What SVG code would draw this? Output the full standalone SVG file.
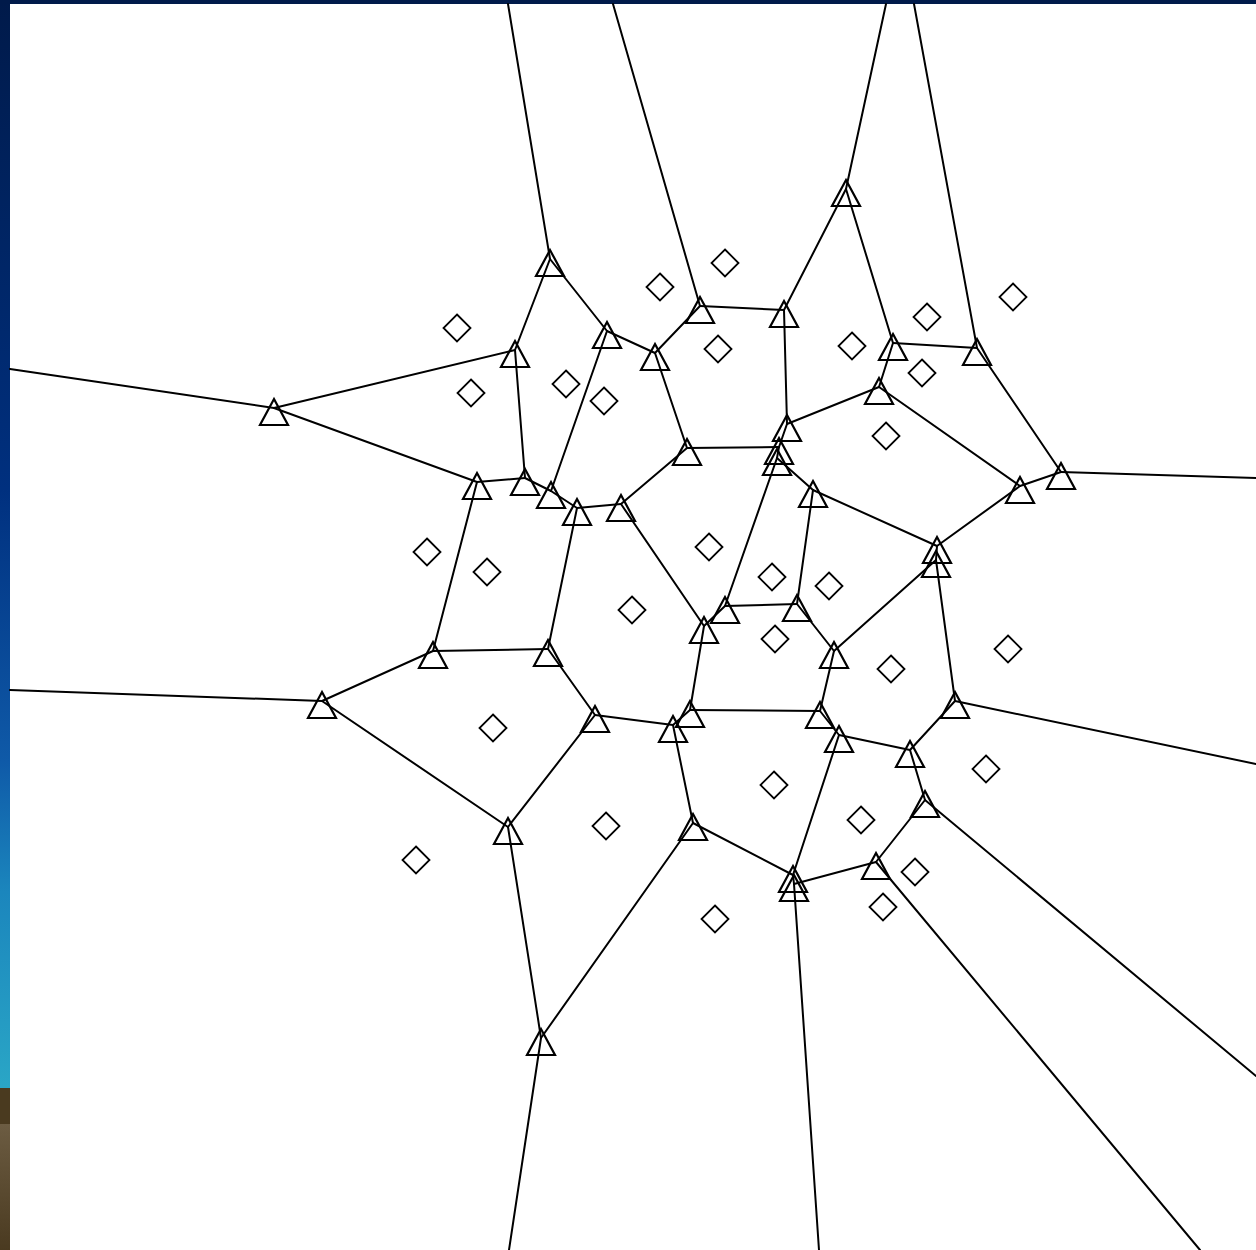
<svg xmlns="http://www.w3.org/2000/svg" xmlns:xlink="http://www.w3.org/1999/xlink" width="1256" height="1250" viewBox="0 0 1256 1250">
<style>
.e{stroke:#000;stroke-width:2;fill:none;stroke-linecap:round}
.v{stroke:#000;stroke-width:2.2;fill:none;stroke-linejoin:miter}
.s{stroke:#000;stroke-width:1.8;fill:none}
</style>
<defs>
<linearGradient id="lg" x1="0" y1="0" x2="0" y2="1">
<stop offset="0" stop-color="#001a4a"/>
<stop offset="0.45" stop-color="#00307f"/>
<stop offset="0.7" stop-color="#0f5aa8"/>
<stop offset="0.82" stop-color="#1b86bd"/>
<stop offset="1" stop-color="#2aa6c6"/>
</linearGradient>
<linearGradient id="bg2" x1="0" y1="0" x2="0" y2="1">
<stop offset="0" stop-color="#6c5c42"/>
<stop offset="1" stop-color="#4a3a20"/>
</linearGradient>
<path id="tri" d="M0,-9 L14,17 L-14,17 Z"/>
<path id="dia" d="M0,-13.5 L13.5,0 L0,13.5 L-13.5,0 Z"/>
</defs>
<rect x="0" y="0" width="1256" height="1250" fill="#fff"/>
<rect x="0" y="0" width="10" height="1088" fill="url(#lg)"/>
<rect x="0" y="1088" width="10" height="162" fill="#4a3a1f"/>
<rect x="0" y="1124" width="10" height="126" fill="url(#bg2)"/>
<rect x="0" y="0" width="1256" height="4" fill="#001a4a"/>
<g id="connectors">
<line class="e" x1="550" y1="259" x2="508" y2="4"/>
<line class="e" x1="700" y1="306" x2="613" y2="4"/>
<line class="e" x1="846" y1="189" x2="886" y2="4"/>
<line class="e" x1="977" y1="348" x2="914" y2="4"/>
<line class="e" x1="274" y1="408" x2="10" y2="369"/>
<line class="e" x1="322" y1="701" x2="10" y2="690"/>
<line class="e" x1="1061" y1="472" x2="1256" y2="478"/>
<line class="e" x1="955" y1="701" x2="1256" y2="764"/>
<line class="e" x1="925" y1="800" x2="1256" y2="1076"/>
<line class="e" x1="541" y1="1038" x2="509" y2="1250"/>
<line class="e" x1="794" y1="884" x2="819" y2="1250"/>
<line class="e" x1="876" y1="862" x2="1200" y2="1250"/>
<line class="e" x1="550" y1="259" x2="515" y2="350"/>
<line class="e" x1="550" y1="259" x2="607" y2="331"/>
<line class="e" x1="700" y1="306" x2="784" y2="310"/>
<line class="e" x1="700" y1="306" x2="655" y2="353"/>
<line class="e" x1="784" y1="310" x2="846" y2="189"/>
<line class="e" x1="784" y1="310" x2="787" y2="424"/>
<line class="e" x1="607" y1="331" x2="655" y2="353"/>
<line class="e" x1="607" y1="331" x2="551" y2="491"/>
<line class="e" x1="515" y1="350" x2="274" y2="408"/>
<line class="e" x1="515" y1="350" x2="525" y2="478"/>
<line class="e" x1="655" y1="353" x2="687" y2="448"/>
<line class="e" x1="846" y1="189" x2="893" y2="343"/>
<line class="e" x1="893" y1="343" x2="977" y2="348"/>
<line class="e" x1="893" y1="343" x2="879" y2="387"/>
<line class="e" x1="977" y1="348" x2="1061" y2="472"/>
<line class="e" x1="879" y1="387" x2="787" y2="424"/>
<line class="e" x1="879" y1="387" x2="1020" y2="486"/>
<line class="e" x1="274" y1="408" x2="477" y2="482"/>
<line class="e" x1="787" y1="424" x2="779" y2="447"/>
<line class="e" x1="687" y1="448" x2="779" y2="447"/>
<line class="e" x1="687" y1="448" x2="621" y2="504"/>
<line class="e" x1="779" y1="447" x2="777" y2="458"/>
<line class="e" x1="777" y1="458" x2="725" y2="606"/>
<line class="e" x1="777" y1="458" x2="813" y2="490"/>
<line class="e" x1="477" y1="482" x2="525" y2="478"/>
<line class="e" x1="477" y1="482" x2="433" y2="651"/>
<line class="e" x1="525" y1="478" x2="551" y2="491"/>
<line class="e" x1="551" y1="491" x2="577" y2="508"/>
<line class="e" x1="577" y1="508" x2="621" y2="504"/>
<line class="e" x1="577" y1="508" x2="548" y2="649"/>
<line class="e" x1="621" y1="504" x2="704" y2="626"/>
<line class="e" x1="813" y1="490" x2="937" y2="546"/>
<line class="e" x1="813" y1="490" x2="797" y2="604"/>
<line class="e" x1="1061" y1="472" x2="1020" y2="486"/>
<line class="e" x1="1020" y1="486" x2="937" y2="546"/>
<line class="e" x1="937" y1="546" x2="936" y2="560"/>
<line class="e" x1="936" y1="560" x2="834" y2="651"/>
<line class="e" x1="936" y1="560" x2="955" y2="701"/>
<line class="e" x1="725" y1="606" x2="797" y2="604"/>
<line class="e" x1="725" y1="606" x2="704" y2="626"/>
<line class="e" x1="797" y1="604" x2="834" y2="651"/>
<line class="e" x1="704" y1="626" x2="690" y2="710"/>
<line class="e" x1="433" y1="651" x2="548" y2="649"/>
<line class="e" x1="433" y1="651" x2="322" y2="701"/>
<line class="e" x1="548" y1="649" x2="595" y2="715"/>
<line class="e" x1="834" y1="651" x2="820" y2="711"/>
<line class="e" x1="322" y1="701" x2="508" y2="827"/>
<line class="e" x1="595" y1="715" x2="673" y2="725"/>
<line class="e" x1="595" y1="715" x2="508" y2="827"/>
<line class="e" x1="690" y1="710" x2="820" y2="711"/>
<line class="e" x1="690" y1="710" x2="673" y2="725"/>
<line class="e" x1="673" y1="725" x2="693" y2="823"/>
<line class="e" x1="820" y1="711" x2="839" y2="735"/>
<line class="e" x1="955" y1="701" x2="910" y2="750"/>
<line class="e" x1="839" y1="735" x2="910" y2="750"/>
<line class="e" x1="839" y1="735" x2="793" y2="875"/>
<line class="e" x1="910" y1="750" x2="925" y2="800"/>
<line class="e" x1="925" y1="800" x2="876" y2="862"/>
<line class="e" x1="508" y1="827" x2="541" y2="1038"/>
<line class="e" x1="693" y1="823" x2="793" y2="875"/>
<line class="e" x1="693" y1="823" x2="541" y2="1038"/>
<line class="e" x1="793" y1="875" x2="794" y2="884"/>
<line class="e" x1="794" y1="884" x2="876" y2="862"/>
</g>
<g id="vA"><use href="#tri" class="v" x="846" y="189"/></g>
<g id="vB"><use href="#tri" class="v" x="550" y="259"/></g>
<g id="vC"><use href="#tri" class="v" x="700" y="306"/></g>
<g id="vD"><use href="#tri" class="v" x="784" y="310"/></g>
<g id="vE"><use href="#tri" class="v" x="607" y="331"/></g>
<g id="vF"><use href="#tri" class="v" x="515" y="350"/></g>
<g id="vG"><use href="#tri" class="v" x="655" y="353"/></g>
<g id="vH"><use href="#tri" class="v" x="893" y="343"/></g>
<g id="vI"><use href="#tri" class="v" x="977" y="348"/></g>
<g id="vJ"><use href="#tri" class="v" x="879" y="387"/></g>
<g id="vK"><use href="#tri" class="v" x="274" y="408"/></g>
<g id="vL"><use href="#tri" class="v" x="787" y="424"/></g>
<g id="vM"><use href="#tri" class="v" x="687" y="448"/></g>
<g id="vN1"><use href="#tri" class="v" x="779" y="447"/></g>
<g id="vN2"><use href="#tri" class="v" x="777" y="458"/></g>
<g id="vO"><use href="#tri" class="v" x="477" y="482"/></g>
<g id="vP"><use href="#tri" class="v" x="525" y="478"/></g>
<g id="vQ"><use href="#tri" class="v" x="551" y="491"/></g>
<g id="vR"><use href="#tri" class="v" x="577" y="508"/></g>
<g id="vS"><use href="#tri" class="v" x="621" y="504"/></g>
<g id="vT"><use href="#tri" class="v" x="813" y="490"/></g>
<g id="vU"><use href="#tri" class="v" x="1061" y="472"/></g>
<g id="vV"><use href="#tri" class="v" x="1020" y="486"/></g>
<g id="vW1"><use href="#tri" class="v" x="937" y="546"/></g>
<g id="vW2"><use href="#tri" class="v" x="936" y="560"/></g>
<g id="vX"><use href="#tri" class="v" x="725" y="606"/></g>
<g id="vY"><use href="#tri" class="v" x="797" y="604"/></g>
<g id="vZ"><use href="#tri" class="v" x="704" y="626"/></g>
<g id="vAA"><use href="#tri" class="v" x="433" y="651"/></g>
<g id="vAB"><use href="#tri" class="v" x="548" y="649"/></g>
<g id="vAC"><use href="#tri" class="v" x="834" y="651"/></g>
<g id="vAD"><use href="#tri" class="v" x="322" y="701"/></g>
<g id="vAE"><use href="#tri" class="v" x="595" y="715"/></g>
<g id="vAF"><use href="#tri" class="v" x="690" y="710"/></g>
<g id="vAG"><use href="#tri" class="v" x="673" y="725"/></g>
<g id="vAH"><use href="#tri" class="v" x="820" y="711"/></g>
<g id="vAI"><use href="#tri" class="v" x="955" y="701"/></g>
<g id="vAJ"><use href="#tri" class="v" x="839" y="735"/></g>
<g id="vAK"><use href="#tri" class="v" x="910" y="750"/></g>
<g id="vAL"><use href="#tri" class="v" x="925" y="800"/></g>
<g id="vAM"><use href="#tri" class="v" x="508" y="827"/></g>
<g id="vAN"><use href="#tri" class="v" x="693" y="823"/></g>
<g id="vAO1"><use href="#tri" class="v" x="793" y="875"/></g>
<g id="vAO2"><use href="#tri" class="v" x="794" y="884"/></g>
<g id="vAP"><use href="#tri" class="v" x="876" y="862"/></g>
<g id="vAQ"><use href="#tri" class="v" x="541" y="1038"/></g>
<g id="s1"><use href="#dia" class="s" x="725" y="263"/></g>
<g id="s2"><use href="#dia" class="s" x="660" y="287"/></g>
<g id="s3"><use href="#dia" class="s" x="457" y="328"/></g>
<g id="s4"><use href="#dia" class="s" x="1013" y="297"/></g>
<g id="s5"><use href="#dia" class="s" x="927" y="317"/></g>
<g id="s6"><use href="#dia" class="s" x="718" y="349"/></g>
<g id="s7"><use href="#dia" class="s" x="852" y="346"/></g>
<g id="s8"><use href="#dia" class="s" x="922" y="373"/></g>
<g id="s9"><use href="#dia" class="s" x="471" y="393"/></g>
<g id="s10"><use href="#dia" class="s" x="566" y="384"/></g>
<g id="s11"><use href="#dia" class="s" x="604" y="401"/></g>
<g id="s12"><use href="#dia" class="s" x="886" y="436"/></g>
<g id="s13"><use href="#dia" class="s" x="427" y="552"/></g>
<g id="s14"><use href="#dia" class="s" x="487" y="572"/></g>
<g id="s15"><use href="#dia" class="s" x="709" y="547"/></g>
<g id="s16"><use href="#dia" class="s" x="772" y="577"/></g>
<g id="s17"><use href="#dia" class="s" x="829" y="586"/></g>
<g id="s18"><use href="#dia" class="s" x="632" y="610"/></g>
<g id="s19"><use href="#dia" class="s" x="775" y="639"/></g>
<g id="s20"><use href="#dia" class="s" x="1008" y="649"/></g>
<g id="s21"><use href="#dia" class="s" x="891" y="669"/></g>
<g id="s22"><use href="#dia" class="s" x="493" y="728"/></g>
<g id="s23"><use href="#dia" class="s" x="986" y="769"/></g>
<g id="s24"><use href="#dia" class="s" x="774" y="785"/></g>
<g id="s25"><use href="#dia" class="s" x="861" y="820"/></g>
<g id="s26"><use href="#dia" class="s" x="606" y="826"/></g>
<g id="s27"><use href="#dia" class="s" x="416" y="860"/></g>
<g id="s28"><use href="#dia" class="s" x="915" y="872"/></g>
<g id="s29"><use href="#dia" class="s" x="883" y="907"/></g>
<g id="s30"><use href="#dia" class="s" x="715" y="919"/></g>
</svg>
